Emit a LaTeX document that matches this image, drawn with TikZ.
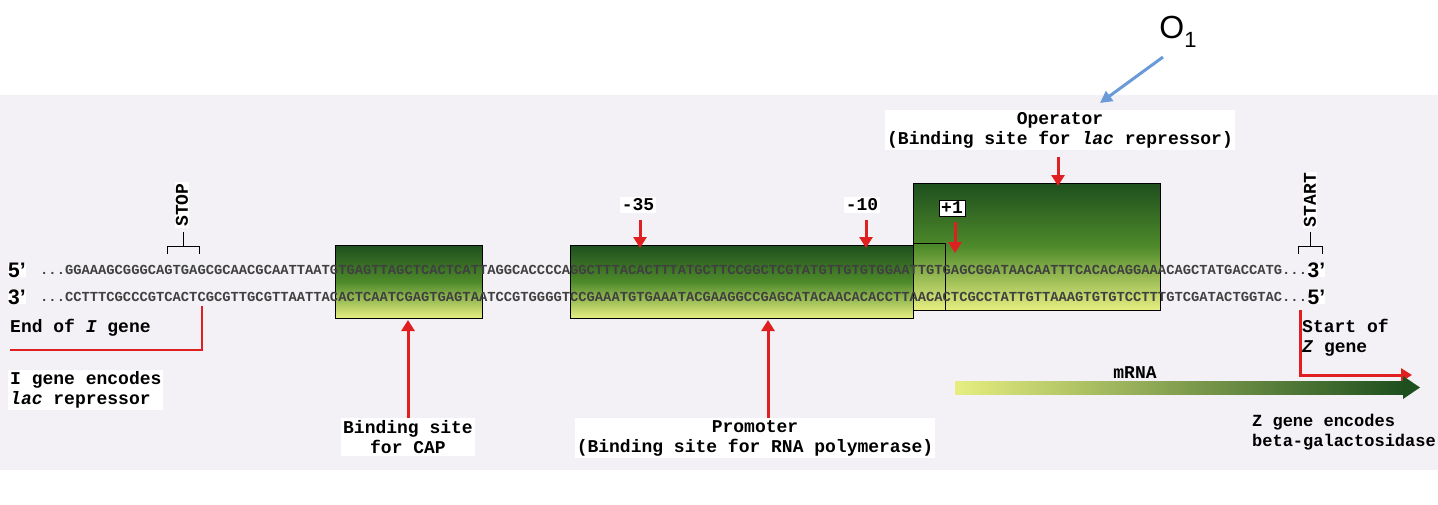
\documentclass[tikz,border=0pt]{standalone}
\usepackage{fontspec}
\setmainfont{Liberation Sans}
\newfontfamily\seqfont{Liberation Mono}
\usetikzlibrary{arrows.meta,shadings}
\definecolor{bg}{HTML}{F3F1F5}
\definecolor{dg}{HTML}{1E4F1E}
\definecolor{mg}{HTML}{4E8A2A}
\definecolor{yg}{HTML}{E6EE80}
\definecolor{rd}{HTML}{E02020}
\definecolor{bl}{HTML}{6A9BD8}
\tikzset{
  lbl/.style={font=\seqfont\bfseries\fontsize{18}{20}\selectfont, inner sep=2pt, fill=white},
  lblb/.style={font=\seqfont\bfseries\fontsize{18}{20}\selectfont, inner sep=1pt},
  seq/.style={font=\seqfont\bfseries\fontsize{13.8}{15}\selectfont, inner sep=0pt, anchor=west, text=black!75},
  prime/.style={font=\bfseries\fontsize{21}{21}\selectfont, inner sep=0pt, anchor=west, fill=white},
  rarr/.style={draw=rd, line width=3pt, -{Triangle[length=11pt,width=13pt]}},
  gbox/.style={top color=dg, bottom color=yg, middle color=mg, draw=black, line width=0.8pt},
}
\begin{document}
\begin{tikzpicture}[x=1pt,y=-1pt]
\useasboundingbox (0,0) rectangle (1438,504);
\fill[white] (0,0) rectangle (1438,504);
\fill[bg] (0,95) rectangle (1438,470);
% boxes
\draw[gbox] (335,245) rectangle (482,318);
\draw[gbox] (570,245) rectangle (913,318);
\draw[gbox] (913,183) rectangle (1160,310);
\draw[black, line width=0.6pt] (913,243) -- (945,243) -- (945,310);
% sequences
\node[prime] (p5) at (8,270) {5’};
\node[prime] (p3) at (8,297) {3’};
\node[seq] (s1) at (40,270) {...GGAAAGCGGGCAGTGAGCGCAACGCAATTAATGTGAGTTAGCTCACTCATTAGGCACCCCAGGCTTTACACTTTATGCTTCCGGCTCGTATGTTGTGTGGAATTGTGAGCGGATAACAATTTCACACAGGAAACAGCTATGACCATG...};
\node[prime] (q3) at (s1.east) {3’};
\node[seq] (s2) at (40,297) {...CCTTTCGCCCGTCACTCGCGTTGCGTTAATTACACTCAATCGAGTGAGTAATCCGTGGGGTCCGAAATGTGAAATACGAAGGCCGAGCATACAACACACCTTAACACTCGCCTATTGTTAAAGTGTGTCCTTTGTCGATACTGGTAC...};
\node[prime] (q5) at (s2.east) {5’};
% O1
\node[font=\fontsize{32}{32}\selectfont] (o1) at (1178,32) {O\raisebox{-0.3em}{\fontsize{22}{22}\selectfont 1}};
\coordinate (o1t) at (1100,103);
\draw[bl, line width=3pt, -{Triangle[length=12pt,width=12pt]}] (1163,57) -- (o1t);
% Operator
\node[lbl, align=center] (op) at (1060,130) {Operator\\(Binding site for \textit{lac} repressor)};
\coordinate (opt) at (1058,186);
\draw[rarr] (1058,157) -- (opt);
% -35 -10 +1
\node[lbl] (m35) at (638,205) {-35};
\coordinate (m35t) at (640,248);
\draw[rarr] (640,220) -- (m35t);
\node[lbl] (m10) at (862,205) {-10};
\coordinate (m10t) at (866,248);
\draw[rarr] (866,220) -- (m10t);
\node[lbl, fill=white, draw=black] (p1) at (952,208) {+1};
\coordinate (p1t) at (955,253);
\draw[rarr] (955,222) -- (p1t);
% STOP / START
\node[lblb, rotate=90, fill=white] (stop) at (182,205) {STOP};
\draw[black, line width=0.8pt] (167,254) -- (167,246) -- (199,246) -- (199,254);
\draw[black, line width=0.8pt] (183,246) -- (183,232);
\node[lblb, rotate=90, fill=white] (start) at (1310,200) {START};
\draw[black, line width=0.8pt] (1298,254) -- (1298,246) -- (1322,246) -- (1322,254);
\draw[black, line width=0.8pt] (1310,246) -- (1310,232);
% End of I gene
\draw[rd, line width=2pt] (202,306) -- (202,350) -- (10,350);
\node[lbl, anchor=west, fill=none] (endi) at (8,328) {End of \textit{I} gene};
\node[lbl, anchor=west, align=left, fill=white] (ienc) at (8,390) {I gene encodes\\\textit{lac} repressor};
% CAP
\node[lbl, align=center] (cap) at (408,437) {Binding site\\for CAP};
\coordinate (capt) at (408,320);
\draw[rarr] (cap.north) -- (capt);
% Promoter
\node[lbl, align=center] (prom) at (755,438) {Promoter\\(Binding site for RNA polymerase)};
\coordinate (promt) at (768,320);
\draw[rarr] (prom.north -| promt) -- (promt);
% Start of Z gene
\node[lbl, anchor=west, align=left, fill=none] (startz) at (1300,338) {Start of\\\textit{Z} gene};
\coordinate (zt) at (1412,375);
\draw[rarr] (1300,310) -- (1300,375) -- (zt);
% mRNA
\shade[left color=yg, right color=dg] (955,381) rectangle (1405,394);
\fill[dg] (1403,376) -- (1420,387.5) -- (1403,399) -- cycle;
\node[lblb] (mrna) at (1135,373) {mRNA};
\node[lbl, anchor=east, align=left, fill=none, font=\seqfont\bfseries\fontsize{17}{20}\selectfont] (zenc) at (1438,432) {Z gene encodes\\beta-galactosidase};
\end{tikzpicture}
\end{document}
